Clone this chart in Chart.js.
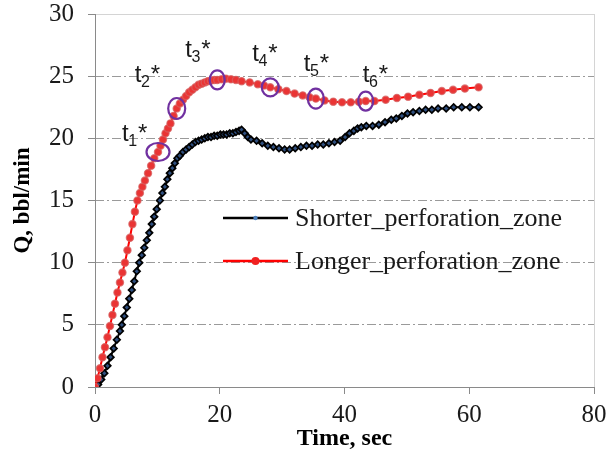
<!DOCTYPE html>
<html>
<head>
<meta charset="utf-8">
<script src="https://cdn.jsdelivr.net/npm/chart.js@4.4.1/dist/chart.umd.min.js"></script>
<style>
  html, body { margin: 0; padding: 0; background: #fff; }
  #wrap { width: 608px; height: 459px; }
</style>
</head>
<body>
<div id="wrap"><canvas id="c" width="608" height="459"></canvas></div>
<script>
// Flow rate vs. time for two perforation zone lengths
const shorterTime = [0, 0.5, 1.0, 1.5, 2.0, 2.5, 3.0, 3.5, 4.0, 4.3, 4.7, 5.1, 5.5, 5.9, 6.3, 6.7, 7.1, 7.5, 7.9, 8.3,
  8.7, 9.1, 9.5, 9.9, 10.4, 10.8, 11.2, 11.6, 12.0, 12.4, 12.8, 13.2, 13.6, 14.1, 14.6, 15.1, 15.6, 16.1, 16.6, 17.1,
  17.6, 18.1, 18.6, 19.1, 19.6, 20.1, 20.6, 21.1, 21.6, 22.1, 22.6, 23.1, 23.5, 24.0, 24.5, 25.0, 25.9, 26.8, 27.7, 28.6,
  29.5, 30.4, 31.2, 32.1, 33.0, 33.9, 34.8, 35.7, 36.6, 37.5, 38.4, 39.3, 40.1, 40.8, 41.5, 42.1, 42.7, 43.5, 44.5, 45.5,
  46.5, 47.5, 48.3, 49.2, 50.1, 51.0, 52.0, 53.0, 54.0, 55.0, 56.3, 57.5, 58.8, 60.1, 61.5];
const shorterQ = [0, 0.2, 0.6, 1.1, 1.7, 2.4, 3.1, 3.8, 4.5, 5.0, 5.7, 6.4, 7.1, 7.8, 8.5, 9.3, 10.0, 10.6, 11.2, 11.8,
  12.4, 13.1, 13.7, 14.3, 15.0, 15.6, 16.1, 16.7, 17.2, 17.6, 18.0, 18.4, 18.6, 18.9, 19.1, 19.3, 19.5, 19.7, 19.8, 19.9,
  20.0, 20.1, 20.1, 20.2, 20.2, 20.3, 20.3, 20.3, 20.4, 20.4, 20.5, 20.6, 20.7, 20.4, 20.1, 19.9, 19.8, 19.6, 19.4, 19.3,
  19.2, 19.1, 19.1, 19.2, 19.3, 19.4, 19.4, 19.5, 19.5, 19.6, 19.7, 19.8, 20.1, 20.4, 20.6, 20.8, 20.9, 21.0, 21.0, 21.1,
  21.3, 21.5, 21.6, 21.8, 22.0, 22.1, 22.2, 22.3, 22.3, 22.4, 22.4, 22.5, 22.5, 22.5, 22.5];

const longerTime = [0, 0.4, 0.8, 1.2, 1.6, 2.0, 2.4, 2.8, 3.2, 3.6, 4.0, 4.4, 4.8, 5.2, 5.6, 6.0, 6.4, 6.8, 7.2, 7.6,
  8.0, 8.5, 9.0, 9.5, 10.1, 10.5, 10.9, 11.3, 11.7, 12.1, 12.6, 13.1, 13.6, 14.1, 14.6, 15.1, 15.6, 16.1, 16.6, 17.1,
  17.6, 18.1, 18.6, 19.1, 19.6, 20.3, 21.0, 21.8, 22.6, 23.5, 24.8, 26.1, 27.1, 28.1, 29.4, 30.7, 32.0, 33.3, 34.4, 35.4,
  36.8, 38.2, 39.6, 41.0, 42.3, 43.4, 44.8, 46.6, 48.4, 50.2, 52.0, 53.8, 55.6, 57.4, 59.3, 61.5];
const longerQ = [0, 0.7, 1.5, 2.4, 3.2, 4.0, 4.9, 5.8, 6.7, 7.6, 8.4, 9.2, 10.0, 11.0, 12.0, 13.1, 14.1, 15.0, 15.6, 16.1,
  16.6, 17.2, 17.8, 18.4, 18.9, 19.4, 19.9, 20.4, 20.8, 21.2, 21.8, 22.4, 22.8, 23.1, 23.4, 23.7, 23.9, 24.1, 24.3, 24.4,
  24.5, 24.6, 24.65, 24.7, 24.7, 24.75, 24.8, 24.75, 24.7, 24.6, 24.5, 24.35, 24.25, 24.1, 23.95, 23.8, 23.6, 23.45, 23.3, 23.2,
  23.05, 22.95, 22.9, 22.9, 22.95, 23.0, 23.0, 23.1, 23.25, 23.35, 23.5, 23.65, 23.8, 23.9, 24.0, 24.1];

// Characteristic times t1*..t6* marked on the longer-zone curve
const markTime = [10.1, 13.1, 19.6, 28.1, 35.4, 43.4];
const markQ = [18.9, 22.4, 24.7, 24.1, 23.2, 23.0];
const markIndex = ['1', '2', '3', '4', '5', '6'];

const seriesNames = ['Shorter_perforation_zone', 'Longer_perforation_zone'];
const xTitle = 'Time, sec';
const yTitle = 'Q, bbl/min';

const SERIF = "'Liberation Serif', 'Times New Roman', serif";
const SANS = "'Liberation Sans', Arial, sans-serif";

// Ellipse sizes and label offsets (px) for each marked time
const markStyle = [
  { rx: 11.5, ry: 9, dx: -36, dy: -11 },
  { rx: 8.5, ry: 10.5, dx: -42, dy: -26 },
  { rx: 7.5, ry: 9.5, dx: -32, dy: -23 },
  { rx: 8.5, ry: 9, dx: -18, dy: -26 },
  { rx: 8, ry: 10, dx: -12, dy: -28 },
  { rx: 7.5, ry: 9.5, dx: -3, dy: -19 }
];

const toPoints = (xs, ys) => xs.map((x, i) => ({ x, y: ys[i] }));

const frame = {
  id: 'frame',
  beforeDatasetsDraw(chart) {
    const { ctx, chartArea: a } = chart;
    ctx.save();
    ctx.lineWidth = 1;
    ctx.strokeStyle = '#d4d4d4';
    ctx.beginPath();
    ctx.moveTo(a.left, a.top + 0.5); ctx.lineTo(a.right + 0.5, a.top + 0.5);
    ctx.moveTo(a.right + 0.5, a.top); ctx.lineTo(a.right + 0.5, a.bottom);
    ctx.stroke();
    ctx.strokeStyle = '#8a8a8a';
    ctx.beginPath();
    ctx.moveTo(a.left + 0.5, a.top); ctx.lineTo(a.left + 0.5, a.bottom + 0.5);
    ctx.moveTo(a.left, a.bottom + 0.5); ctx.lineTo(a.right + 1, a.bottom + 0.5);
    ctx.stroke();
    ctx.restore();
  }
};

const marks = {
  id: 'marks',
  afterDatasetsDraw(chart) {
    const { ctx, scales: { x, y } } = chart;
    ctx.save();
    markTime.forEach((t, i) => {
      const px = x.getPixelForValue(t);
      const py = y.getPixelForValue(markQ[i]);
      const s = markStyle[i];
      ctx.strokeStyle = '#7030a0';
      ctx.lineWidth = 2.2;
      ctx.beginPath();
      ctx.ellipse(px, py, s.rx, s.ry, 0, 0, Math.PI * 2);
      ctx.stroke();

      let lx = px + s.dx;
      const by = py + s.dy;
      ctx.fillStyle = '#1a1a1a';
      ctx.textBaseline = 'alphabetic';
      ctx.textAlign = 'left';
      ctx.font = '24px ' + SANS;
      ctx.fillText('t', lx, by);
      lx += ctx.measureText('t').width - 0.5;
      ctx.font = '16px ' + SANS;
      ctx.fillText(markIndex[i], lx, by + 5);
      lx += ctx.measureText(markIndex[i]).width + 1;
      ctx.font = '24px ' + SANS;
      ctx.fillText('*', lx, by);
    });
    ctx.restore();
  }
};

const legendBox = {
  id: 'legendBox',
  afterDraw(chart) {
    const { ctx } = chart;
    const x0 = 223, x1 = 288, textX = 295;
    const rows = [218, 261];
    ctx.save();
    chart.data.datasets.forEach((ds, i) => {
      const yy = rows[i];
      ctx.strokeStyle = ds.borderColor;
      ctx.lineWidth = 2.5;
      ctx.beginPath();
      ctx.moveTo(x0, yy); ctx.lineTo(x1, yy);
      ctx.stroke();
      ctx.beginPath();
      if (i === 0) {
        ctx.fillStyle = '#4f81bd';
        ctx.arc((x0 + x1) / 2, yy, 2.2, 0, Math.PI * 2);
      } else {
        ctx.fillStyle = '#f02020';
        ctx.arc((x0 + x1) / 2, yy, 4, 0, Math.PI * 2);
      }
      ctx.fill();
      ctx.fillStyle = '#1a1a1a';
      ctx.font = '26px ' + SERIF;
      ctx.textBaseline = 'middle';
      ctx.fillText(ds.label, textX, yy + 1);
    });
    ctx.restore();
  }
};

new Chart(document.getElementById('c'), {
  type: 'line',
  data: {
    datasets: [
      {
        label: seriesNames[0],
        data: toPoints(shorterTime, shorterQ),
        borderColor: '#000000',
        borderWidth: 2,
        pointStyle: 'rectRot',
        pointRadius: 3.3,
        pointBackgroundColor: '#2f4f7f',
        pointBorderColor: '#000000',
        pointBorderWidth: 1.7,
        tension: 0,
        order: 1
      },
      {
        label: seriesNames[1],
        data: toPoints(longerTime, longerQ),
        borderColor: '#ff0000',
        borderWidth: 2,
        pointStyle: 'circle',
        pointRadius: 3.6,
        pointBackgroundColor: '#ea3434',
        pointBorderColor: 'rgba(215,95,95,0.75)',
        pointBorderWidth: 1.3,
        tension: 0,
        order: 0
      }
    ]
  },
  options: {
    responsive: false,
    animation: false,
    devicePixelRatio: 1,
    layout: { padding: 0 },
    plugins: { legend: { display: false }, tooltip: { enabled: false } },
    scales: {
      x: {
        type: 'linear',
        min: 0, max: 80,
        afterFit: (s) => { s.height = 72; s.paddingLeft = 0; s.paddingRight = 14; },
        ticks: { stepSize: 20, color: '#1a1a1a', padding: 6, font: { family: SERIF, size: 25 } },
        grid: { drawOnChartArea: false, tickLength: 7, tickColor: '#8a8a8a' },
        border: { display: false },
        title: { display: true, text: xTitle, color: '#000', padding: { top: 0, bottom: 6 },
                 font: { family: SERIF, size: 24, weight: 'bold' } }
      },
      y: {
        min: 0, max: 30,
        afterFit: (s) => { s.width = 95; s.paddingTop = 14; s.paddingBottom = 0; },
        ticks: { stepSize: 5, color: '#1a1a1a', padding: 14, font: { family: SERIF, size: 25 } },
        grid: {
          tickLength: 7,
          tickColor: '#8a8a8a',
          color: (c) => (c.tick && (c.tick.value === 0 || c.tick.value === 30)) ? 'rgba(0,0,0,0)' : '#9a9a9a',
          lineWidth: 1
        },
        border: { display: false, dash: [9, 3, 2, 3] },
        title: { display: true, text: yTitle, color: '#000', padding: { top: 9 },
                 font: { family: SERIF, size: 23, weight: 'bold' } }
      }
    }
  },
  plugins: [frame, marks, legendBox]
});
</script>
</body>
</html>
